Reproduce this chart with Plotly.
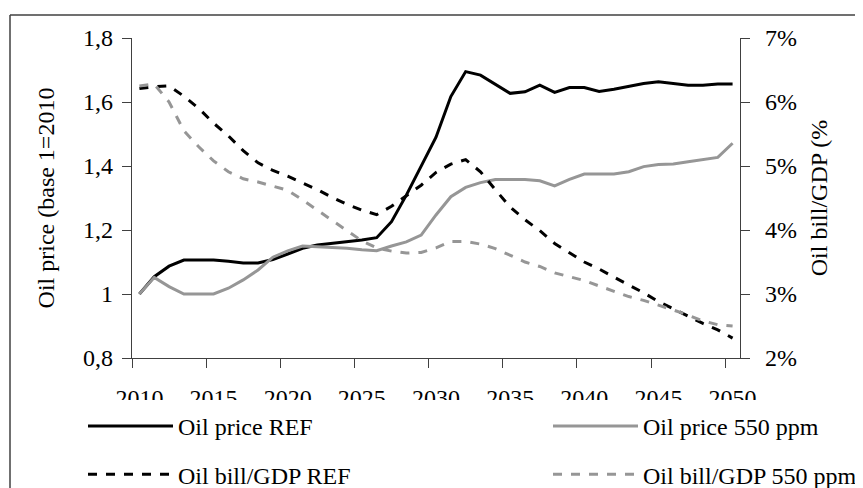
import plotly.graph_objects as go

years = list(range(2010, 2051))

oil_price_ref = [1.00, 1.054, 1.087, 1.106, 1.106, 1.106, 1.102, 1.097, 1.097, 1.108,
                 1.125, 1.143, 1.153, 1.158, 1.163, 1.169, 1.176, 1.226, 1.309, 1.40,
                 1.49, 1.617, 1.695, 1.684, 1.656, 1.627, 1.632, 1.653, 1.630, 1.645,
                 1.645, 1.633, 1.64, 1.648, 1.658, 1.663, 1.658, 1.652, 1.652, 1.656, 1.656]

oil_price_550 = [1.00, 1.052, 1.023, 1.00, 1.00, 1.00, 1.018, 1.044, 1.075, 1.115,
                 1.135, 1.15, 1.148, 1.146, 1.143, 1.138, 1.135, 1.15, 1.163, 1.184,
                 1.247, 1.304, 1.333, 1.348, 1.358, 1.358, 1.358, 1.354, 1.338, 1.358,
                 1.375, 1.375, 1.375, 1.382, 1.398, 1.405, 1.406, 1.413, 1.421, 1.427, 1.471]

oil_bill_ref = [6.21, 6.24, 6.25, 6.09, 5.90, 5.67, 5.47, 5.24, 5.05, 4.93,
                4.84, 4.74, 4.63, 4.51, 4.40, 4.31, 4.24, 4.37, 4.54, 4.70,
                4.90, 5.03, 5.10, 4.91, 4.63, 4.36, 4.16, 3.99, 3.79, 3.64,
                3.50, 3.39, 3.26, 3.14, 3.02, 2.88, 2.77, 2.65, 2.54, 2.44, 2.31]

oil_bill_550 = [6.25, 6.28, 6.00, 5.55, 5.30, 5.08, 4.91, 4.80, 4.75, 4.69,
                4.62, 4.47, 4.31, 4.15, 4.00, 3.83, 3.72, 3.67, 3.64, 3.65,
                3.72, 3.82, 3.82, 3.78, 3.71, 3.61, 3.50, 3.43, 3.33, 3.27,
                3.21, 3.125, 3.04, 2.96, 2.90, 2.83, 2.75, 2.67, 2.58, 2.52, 2.50]

x_labels = [2010, 2015, 2020, 2025, 2030, 2035, 2040, 2045, 2050]
left_ticks = [0.8, 1.0, 1.2, 1.4, 1.6, 1.8]
left_text = ["0,8", "1", "1,2", "1,4", "1,6", "1,8"]
right_ticks = [2, 3, 4, 5, 6, 7]
right_text = ["2%", "3%", "4%", "5%", "6%", "7%"]

BLACK = "#000000"
GRAY = "#969696"
AX = "#404040"
FONT = "Liberation Serif"
FS = 24

# page body has an 8px margin, so figure px = screen px - 8
W, H = 880, 500
L, R, T, B = 124, 732, 30, 350
pw, ph = R - L, B - T

def px_x(p):
    return (p - L) / pw

def px_y(p):
    return (B - p) / ph

fig = go.Figure()
fig.add_trace(go.Scatter(x=years, y=oil_price_ref, name="Oil price REF", mode="lines",
                         line=dict(color=BLACK, width=3), legend="legend", legendgroup="a"))
fig.add_trace(go.Scatter(x=years, y=oil_price_550, name="Oil price 550 ppm", mode="lines",
                         line=dict(color=GRAY, width=3), legend="legend2", legendgroup="c"))
fig.add_trace(go.Scatter(x=years, y=oil_bill_ref, name="Oil bill/GDP REF", mode="lines",
                         line=dict(color=BLACK, width=3, dash="dash"), yaxis="y2",
                         legend="legend", legendgroup="b"))
fig.add_trace(go.Scatter(x=years, y=oil_bill_550, name="Oil bill/GDP 550 ppm", mode="lines",
                         line=dict(color=GRAY, width=3, dash="dash"), yaxis="y2",
                         legend="legend2", legendgroup="d"))

xr = [years[0] - 0.5, years[-1] + 0.5]
bounds = [v - 0.5 for v in x_labels]

fig.update_layout(
    width=W, height=H,
    margin=dict(l=L, r=W - R, t=T, b=H - B, autoexpand=False),
    paper_bgcolor="white", plot_bgcolor="white",
    font=dict(family=FONT, size=FS, color="black"),
    xaxis=dict(range=xr, tickvals=x_labels, ticktext=[str(v) for v in x_labels],
               ticks="", showgrid=False, zeroline=False, showline=True,
               linecolor=AX, linewidth=1.3, ticklabelstandoff=18,
               minor=dict(tickvals=bounds, ticks="outside", ticklen=9,
                          tickcolor=AX, tickwidth=1.3, showgrid=False)),
    xaxis3=dict(range=xr, overlaying="x", anchor="y", tickvals=bounds, ticks="inside",
                ticklen=9, tickcolor=AX, tickwidth=1.3, showticklabels=False,
                showgrid=False, zeroline=False, showline=False),
    yaxis=dict(range=[0.8, 1.8], tickvals=left_ticks, ticktext=left_text,
               ticks="outside", ticklen=9, tickcolor=AX, tickwidth=1.3,
               showgrid=False, zeroline=False, showline=True, linecolor=AX, linewidth=1.3,
               ticklabelstandoff=4,
               title=dict(text="Oil price (base 1=2010", font=dict(size=FS), standoff=21)),
    yaxis2=dict(range=[2, 7], tickvals=right_ticks, ticktext=right_text, overlaying="y",
                side="right", anchor="x", ticks="outside", ticklen=9, tickcolor=AX,
                tickwidth=1.3, showgrid=False, zeroline=False, showline=True,
                linecolor=AX, linewidth=1.3, ticklabelstandoff=10,
                title=dict(text="Oil bill/GDP (%", font=dict(size=FS), standoff=14)),
    yaxis3=dict(range=[0.8, 1.8], overlaying="y", anchor="x", side="left",
                tickvals=left_ticks, ticks="inside", ticklen=9, tickcolor=AX,
                tickwidth=1.3, showticklabels=False, showgrid=False, zeroline=False,
                showline=False),
    yaxis4=dict(range=[2, 7], overlaying="y", anchor="x", side="right",
                tickvals=right_ticks, ticks="inside", ticklen=9, tickcolor=AX,
                tickwidth=1.3, showticklabels=False, showgrid=False, zeroline=False,
                showline=False),
    legend=dict(x=px_x(75), y=px_y(396), xanchor="left", yanchor="top",
                orientation="v", itemwidth=85, tracegroupgap=14,
                bgcolor="rgba(0,0,0,0)", font=dict(size=FS, family=FONT),
                traceorder="grouped"),
    legend2=dict(x=px_x(540), y=px_y(396), xanchor="left", yanchor="top",
                 orientation="v", itemwidth=85, tracegroupgap=14,
                 bgcolor="rgba(0,0,0,0)", font=dict(size=FS, family=FONT),
                 traceorder="grouped"),
    shapes=[
        dict(type="rect", xref="paper", yref="paper", layer="above",
             x0=px_x(87), x1=px_x(792), y0=px_y(392), y1=px_y(472),
             fillcolor="white", line=dict(width=0)),
        dict(type="line", xref="paper", yref="paper", layer="above",
             x0=px_x(2), x1=px_x(2), y0=px_y(7), y1=px_y(499),
             line=dict(color=AX, width=1.5)),
        dict(type="line", xref="paper", yref="paper", layer="above",
             x0=px_x(2), x1=px_x(879), y0=px_y(7), y1=px_y(7),
             line=dict(color=AX, width=1.5)),
    ],
)

fig.write_html("out.html")
